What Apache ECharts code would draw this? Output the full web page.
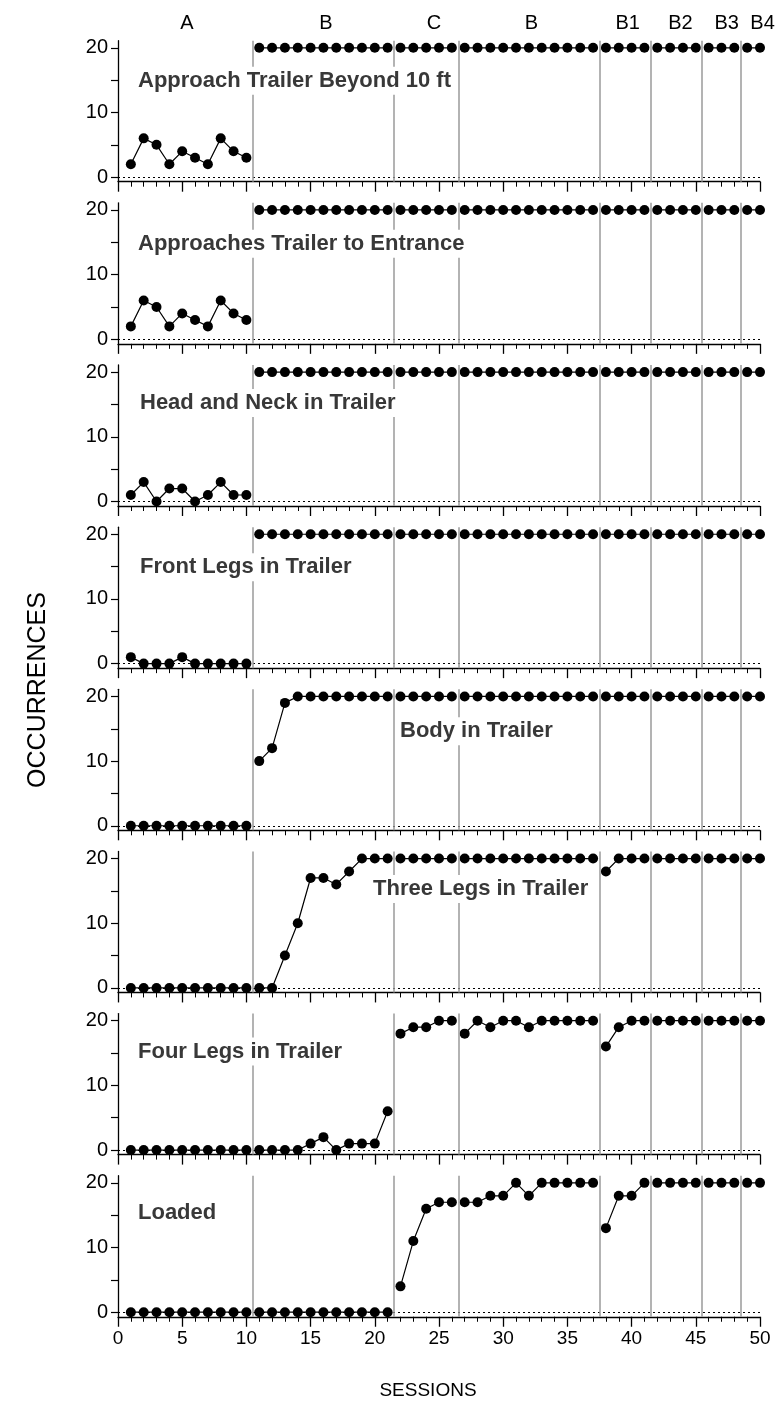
<!DOCTYPE html>
<html><head><meta charset="utf-8">
<script src="https://cdn.jsdelivr.net/npm/echarts@6/dist/echarts.min.js"></script>
<style>html,body{margin:0;padding:0;background:#fff}#c{width:776px;height:1408px}</style>
</head><body><div id="c"></div>
<script>
// ---------- DATA ----------
const sessions = [1,2,3,4,5,6,7,8,9,10,11,12,13,14,15,16,17,18,19,20,21,22,23,24,25,26,27,28,29,30,31,32,33,34,35,36,37,38,39,40,41,42,43,44,45,46,47,48,49,50];
const panelTitles = ['Approach Trailer Beyond 10 ft','Approaches Trailer to Entrance','Head and Neck in Trailer','Front Legs in Trailer','Body in Trailer','Three Legs in Trailer','Four Legs in Trailer','Loaded'];
const phaseNames = ['A','B','C','B','B1','B2','B3','B4'];
const phaseLabelAt = [5.37,16.2,24.6,32.2,39.7,43.8,47.4,50.2];
const phaseBreaks = [10.5,21.5,26.5,37.5,41.5,45.5,48.5];
const xTickLabels = [0,5,10,15,20,25,30,35,40,45,50];
const yTicks = [0,5,10,15,20];
const yTickLabels = [0,10,20];

const approachBeyond10ft = [2,6,5,2,4,3,2,6,4,3, 20,20,20,20,20,20,20,20,20,20,20, 20,20,20,20,20, 20,20,20,20,20,20,20,20,20,20,20, 20,20,20,20, 20,20,20,20, 20,20,20, 20,20];
const approachesEntrance = [2,6,5,2,4,3,2,6,4,3, 20,20,20,20,20,20,20,20,20,20,20, 20,20,20,20,20, 20,20,20,20,20,20,20,20,20,20,20, 20,20,20,20, 20,20,20,20, 20,20,20, 20,20];
const headNeck = [1,3,0,2,2,0,1,3,1,1, 20,20,20,20,20,20,20,20,20,20,20, 20,20,20,20,20, 20,20,20,20,20,20,20,20,20,20,20, 20,20,20,20, 20,20,20,20, 20,20,20, 20,20];
const frontLegs = [1,0,0,0,1,0,0,0,0,0, 20,20,20,20,20,20,20,20,20,20,20, 20,20,20,20,20, 20,20,20,20,20,20,20,20,20,20,20, 20,20,20,20, 20,20,20,20, 20,20,20, 20,20];
const bodyIn = [0,0,0,0,0,0,0,0,0,0, 10,12,19,20,20,20,20,20,20,20,20, 20,20,20,20,20, 20,20,20,20,20,20,20,20,20,20,20, 20,20,20,20, 20,20,20,20, 20,20,20, 20,20];
const threeLegs = [0,0,0,0,0,0,0,0,0,0, 0,0,5,10,17,17,16,18,20,20,20, 20,20,20,20,20, 20,20,20,20,20,20,20,20,20,20,20, 18,20,20,20, 20,20,20,20, 20,20,20, 20,20];
const fourLegs = [0,0,0,0,0,0,0,0,0,0, 0,0,0,0,1,2,0,1,1,1,6, 18,19,19,20,20, 18,20,19,20,20,19,20,20,20,20,20, 16,19,20,20, 20,20,20,20, 20,20,20, 20,20];
const loaded = [0,0,0,0,0,0,0,0,0,0, 0,0,0,0,0,0,0,0,0,0,0, 4,11,16,17,17, 17,17,18,18,20,18,20,20,20,20,20, 13,18,18,20, 20,20,20,20, 20,20,20, 20,20];
const panelValues = [approachBeyond10ft, approachesEntrance, headNeck, frontLegs, bodyIn, threeLegs, fourLegs, loaded];

// ---------- LAYOUT ----------
const FONT = '"Liberation Sans", Arial, sans-serif';
const G_LEFT = 118, G_W = 642, G_TOP0 = 40.7, G_STEP = 162.15, G_H = 141;
const Y_MIN = -0.7, Y_MAX = 21.1, X_MIN = 0, X_MAX = 50;
const titleLeft = [136,136,138,138,398,371,136,136];
const titleDy = [41,42,39,41,43,38.5,39,38];

const grids = [], xAxes = [], yAxes = [], series = [], graphics = [];
const bounds = [0.5].concat(phaseBreaks, [50.5]);
const px = v => G_LEFT + (v - X_MIN) / (X_MAX - X_MIN) * G_W;

panelValues.forEach((vals, i) => {
  const top = G_TOP0 + i * G_STEP;
  const last = i === panelValues.length - 1;
  grids.push({left: G_LEFT, top: top, width: G_W, height: G_H});
  xAxes.push({
    type: 'value', gridIndex: i, min: X_MIN, max: X_MAX, interval: 5,
    axisLine: {show: true, onZero: false, lineStyle: {color: '#000', width: 1.3}},
    axisTick: {show: true, length: 10, lineStyle: {color: '#000', width: 1.3}},
    minorTick: {show: true, splitNumber: 5, length: 5, lineStyle: {color: '#000', width: 1}},
    axisLabel: {show: last, fontSize: 19, color: '#000', fontFamily: FONT, margin: 13,
      customValues: xTickLabels},
    splitLine: {show: false}, minorSplitLine: {show: false}
  });
  yAxes.push({
    type: 'value', gridIndex: i, min: Y_MIN, max: Y_MAX,
    axisLine: {show: true, onZero: false, lineStyle: {color: '#000', width: 1.3}},
    axisTick: {show: true, length: 7, customValues: yTicks, lineStyle: {color: '#000', width: 1.2}},
    axisLabel: {show: true, customValues: yTickLabels, fontSize: 20, color: '#000', fontFamily: FONT, margin: 10},
    splitLine: {show: false}
  });
  for (let k = 0; k < bounds.length - 1; k++) {
    const data = [];
    sessions.forEach((s, j) => { if (s > bounds[k] && s < bounds[k + 1]) data.push([s, vals[j]]); });
    const s = {
      type: 'line', xAxisIndex: i, yAxisIndex: i, data: data,
      symbol: 'circle', symbolSize: 10, showSymbol: true,
      lineStyle: {color: '#000', width: 1.2}, itemStyle: {color: '#000'},
      animation: false, z: 3, silent: true
    };
    if (k === 0) {
      s.markLine = {
        symbol: 'none', silent: true, animation: false, label: {show: false},
        data: [{yAxis: 0, lineStyle: {type: [2, 3], color: '#000', width: 1.1}}].concat(
          phaseBreaks.map(b => ({xAxis: b, lineStyle: {type: 'solid', color: '#9a9a9a', width: 1.5}})))
      };
    }
    series.push(s);
  }
  graphics.push({
    type: 'text', left: titleLeft[i], top: top + titleDy[i] - 15, z: 100,
    style: {text: panelTitles[i], font: 'bold 22px ' + FONT, fill: '#383838',
      backgroundColor: '#fff', padding: [3, 2]}
  });
});

phaseNames.forEach((n, k) => {
  graphics.push({type: 'text', x: px(phaseLabelAt[k]), y: 23, z: 100,
    style: {text: n, font: '20px ' + FONT, fill: '#000', textAlign: 'center', textVerticalAlign: 'middle'}});
});
graphics.push({type: 'text', x: 38, y: 690, rotation: Math.PI / 2, z: 100,
  style: {text: 'OCCURRENCES', font: '25px ' + FONT, fill: '#000', textAlign: 'center', textVerticalAlign: 'middle'}});
graphics.push({type: 'text', x: 428, y: 1391, z: 100,
  style: {text: 'SESSIONS', font: '19px ' + FONT, fill: '#000', textAlign: 'center', textVerticalAlign: 'middle'}});

const chart = echarts.init(document.getElementById('c'), null, {renderer: 'canvas'});
chart.setOption({
  animation: false, backgroundColor: '#fff',
  grid: grids, xAxis: xAxes, yAxis: yAxes, series: series, graphic: graphics
});
</script></body></html>
